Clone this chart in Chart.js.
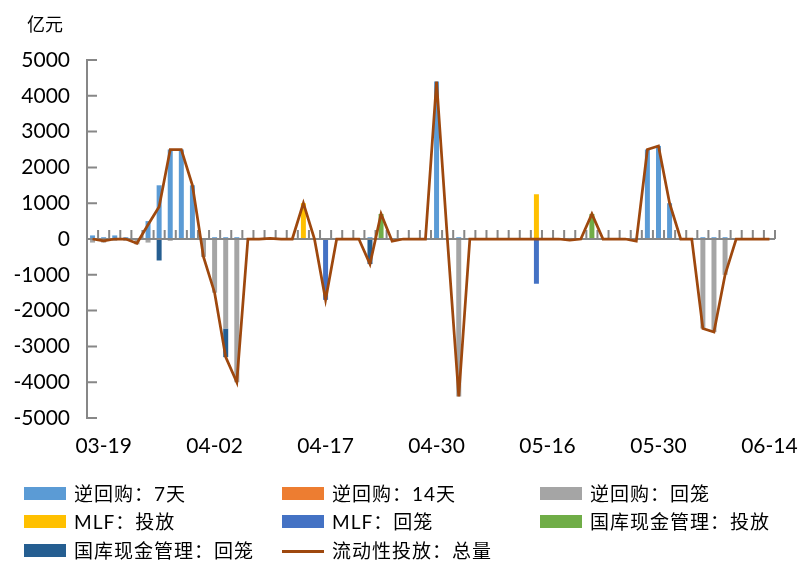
<!DOCTYPE html>
<html>
<head>
<meta charset="utf-8">
<script src="https://cdn.jsdelivr.net/npm/chart.js@4.4.1/dist/chart.umd.min.js"></script>
<style>
  body { margin: 0; background: #fff; }
  #wrap { position: relative; width: 801px; height: 571px; }
  #unit { position: absolute; left: 27px; top: 10px; font: 18px "Noto Sans CJK SC"; color: #000; }
  .lg { position: absolute; height: 26px; font: 19px Lato, "Noto Sans CJK SC"; line-height: 26px; color: #000; white-space: nowrap; }
  .lg i { position: absolute; left: 0; top: 6px; width: 42px; height: 13px; }
  .lg i.ln { top: 12px; height: 2.5px; }
  .lg span { position: absolute; left: 50px; top: 0; letter-spacing: 1px; }
</style>
</head>
<body>
<div id="wrap">
  <canvas id="chart" width="801" height="571"></canvas>
  <div id="unit">亿元</div>
  <div id="legend"></div>
</div>
<script>
// trading days, 2019
const labels = ['03-18','03-19','03-20','03-21','03-22','03-25','03-26','03-27','03-28','03-29',
  '04-01','04-02','04-03','04-04','04-08','04-09','04-10','04-11','04-12','04-15',
  '04-16','04-17','04-18','04-19','04-22','04-23','04-24','04-25','04-26','04-28',
  '04-29','04-30','05-05','05-06','05-07','05-08','05-09','05-10','05-13','05-14',
  '05-15','05-16','05-17','05-20','05-21','05-22','05-23','05-24','05-27','05-28',
  '05-29','05-30','05-31','06-03','06-04','06-05','06-06','06-10','06-11','06-12',
  '06-13','06-14']

const rr7 = [100,50,100,50,0,500,1500,2500,2500,1500, 0,50,50,50,0,0,0,0,0,0,
  0,0,0,0,0,50,0,0,0,0, 0,4400,0,50,0,0,0,0,0,0, 0,0,0,30,0,0,0,0,0,30,
  2500,2600,1000,0,0,50,50,50,0,0, 0,0]
const rr14 = new Array(62).fill(0)
const rrBack = [-100,-100,-50,-50,-150,-100,0,-50,0,0, -500,-1500,-2500,-4000,0,0,0,0,0,0,
  0,0,0,0,0,0,0,0,0,0, 0,0,0,-4400,0,0,0,0,0,0, 0,0,0,0,0,0,0,0,0,0,
  0,0,0,0,0,-2500,-2600,-1000,0,0, 0,0]
const mlfIn = [0,0,0,0,0,0,0,0,0,0, 0,0,0,0,0,0,0,0,0,1000,
  0,0,0,0,0,0,0,0,0,0, 0,0,0,0,0,0,0,0,0,0, 1250,0,0,0,0,0,0,0,0,0,
  0,0,0,0,0,0,0,0,0,0, 0,0]
const mlfOut = [0,0,0,0,0,0,0,0,0,0, 0,0,0,0,0,0,0,0,0,0,
  0,-1700,0,0,0,0,0,0,0,0, 0,0,0,0,0,0,0,0,0,0, -1250,0,0,0,0,0,0,0,0,0,
  0,0,0,0,0,0,0,0,0,0, 0,0]
const tcmIn = [0,0,0,0,0,0,0,0,0,0, 0,0,0,0,0,0,0,0,0,0,
  0,0,0,0,0,0,700,0,0,0, 0,0,0,0,0,0,0,0,0,0, 0,0,0,0,0,700,0,0,0,0,
  0,0,0,0,0,0,0,0,0,0, 0,0]
const tcmOut = [0,0,0,0,0,0,-600,0,0,0, 0,0,-800,0,0,0,0,0,0,0,
  0,0,0,0,0,-700,0,0,0,0, 0,0,0,0,0,0,0,0,0,0, 0,0,0,0,0,0,0,0,0,0,
  0,0,0,0,0,0,0,0,0,0, 0,0]
const total = [0,-50,0,0,-120,400,900,2500,2500,1500, -500,-1500,-3300,-4000,0,0,20,0,0,1000,
  0,-1700,0,0,0,-700,700,-60,0,0, 0,4400,-100,-4400,0,0,0,0,0,0, 0,0,0,-30,0,700,0,0,0,-60,
  2500,2600,1000,0,0,-2500,-2600,-1000,0,0, 0,0]

const axisGray = '#878787'

function bar(label, data, color) {
  return { type: 'bar', label: label, data: data, backgroundColor: color,
    borderWidth: 0, stack: 'ops', order: 1, categoryPercentage: 1, barPercentage: 0.45 }
}

const datasets = [
  bar('逆回购：7天', rr7, '#5B9BD5'),
  bar('逆回购：14天', rr14, '#ED7D31'),
  bar('逆回购：回笼', rrBack, '#A5A5A5'),
  bar('MLF：投放', mlfIn, '#FFC000'),
  bar('MLF：回笼', mlfOut, '#4472C4'),
  bar('国库现金管理：投放', tcmIn, '#70AD47'),
  bar('国库现金管理：回笼', tcmOut, '#255E91'),
  { type: 'line', label: '流动性投放：总量', data: total, borderColor: '#9E480E',
    borderWidth: 2.75, pointRadius: 0, tension: 0, fill: false, stack: 'total', order: 0 }
]

// axis lines drawn under the line series but over the bars
const axisMarks = {
  id: 'axisMarks',
  beforeDatasetDraw(chart, args) {
    if (args.meta.type !== 'line') return
    const { ctx, chartArea, scales } = chart
    const y0 = scales.y.getPixelForValue(0)
    ctx.save()
    ctx.strokeStyle = axisGray
    ctx.lineWidth = 2
    ctx.beginPath()
    ctx.moveTo(chartArea.left, chartArea.top - 1)
    ctx.lineTo(chartArea.left, chartArea.bottom + 1)
    for (let v = -5000; v <= 5000; v += 1000) {
      const y = scales.y.getPixelForValue(v)
      ctx.moveTo(chartArea.left, y)
      ctx.lineTo(chartArea.left + 10, y)
    }
    ctx.moveTo(chartArea.left, y0)
    ctx.lineTo(chartArea.right, y0)
    const n = labels.length
    const w = (chartArea.right - chartArea.left) / n
    for (let i = 1; i <= n; i++) {
      const x = chartArea.left + i * w
      ctx.moveTo(x, y0)
      ctx.lineTo(x, y0 - 9)
    }
    ctx.stroke()
    ctx.restore()
  }
}

const tickFont = { family: 'Lato', size: 21 }

new Chart(document.getElementById('chart'), {
  data: { labels: labels, datasets: datasets },
  options: {
    responsive: false,
    animation: false,
    devicePixelRatio: 1,
    layout: { padding: { left: 0, right: 26, top: 60, bottom: 103 } },
    plugins: { legend: { display: false }, tooltip: { enabled: false } },
    scales: {
      x: {
        stacked: true,
        offset: true,
        grid: { display: false, drawTicks: false },
        border: { display: false },
        ticks: {
          autoSkip: false, maxRotation: 0, padding: 16, color: '#000', font: tickFont,
          callback: function (v, i) { return i % 10 === 1 ? labels[i] : '' }
        },
        afterFit: function (s) {
          s.height = 50
          s.paddingLeft = 0
          s.paddingRight = 0
        }
      },
      y: {
        stacked: true,
        min: -5000, max: 5000,
        grid: { display: false, drawTicks: false },
        border: { display: false },
        ticks: {
          stepSize: 1000, padding: 17, color: '#000', font: tickFont,
          callback: function (v) { return String(v) }
        },
        afterFit: function (s) { s.width = 87 }
      }
    }
  },
  plugins: [axisMarks]
})

// legend laid out like the original: 3 columns x 3 rows
const colX = [24, 282, 540]
const rowY = [481, 509, 538]
const legend = document.getElementById('legend')
datasets.forEach(function (d, i) {
  const item = document.createElement('div')
  item.className = 'lg'
  item.style.left = colX[i % 3] + 'px'
  item.style.top = rowY[Math.floor(i / 3)] + 'px'
  const sw = document.createElement('i')
  if (d.type === 'line') {
    sw.className = 'ln'
    sw.style.background = d.borderColor
  } else {
    sw.style.background = d.backgroundColor
  }
  const tx = document.createElement('span')
  tx.textContent = d.label
  item.appendChild(sw)
  item.appendChild(tx)
  legend.appendChild(item)
})
</script>
</body>
</html>
